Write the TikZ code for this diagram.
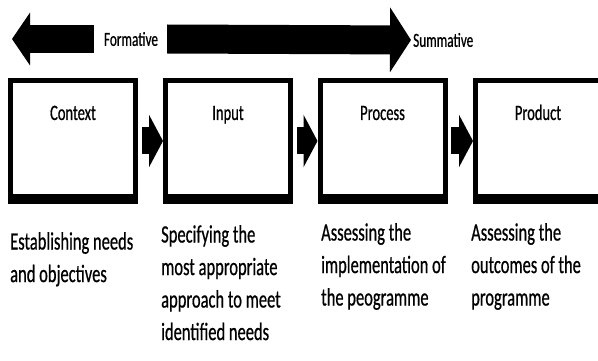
\documentclass[tikz,border=0pt]{standalone}
\usepackage{fontspec}
\setmainfont{Carlito}[FakeStretch=0.66,FakeBold=0.6]
\usetikzlibrary{arrows.meta,positioning}

\tikzset{
  stage/.style={draw, line width=5pt, inner sep=0pt, minimum width=125pt, minimum height=120pt,
    text height=39pt, text depth=81pt, font=\fontsize{22}{24}\selectfont},
  desc/.style={anchor=north west, inner sep=0pt, align=left, font=\fontsize{25}{32.5}\selectfont},
  phase/.style={inner sep=2pt, font=\fontsize{20}{24}\selectfont},
  bigarrow/.style={line width=28pt, -{Triangle[length=18pt,width=52pt]}},
  longarrow/.style={line width=29pt, -{Triangle[length=21pt,width=64pt]}},
  steparrow/.style={line width=27pt, -{Triangle[length=14pt,width=52pt]}}
}

\begin{document}
\begin{tikzpicture}[x=1pt,y=-1pt]
	\useasboundingbox (0,0) rectangle (598,361);

	% top arrows
	\node[phase] (formative) at (131,39) {Formative};
	\node[phase, anchor=west] (summative) at (411,40) {Summative};
	\coordinate (lefttip) at (12,39);
	\draw[bigarrow] ([xshift=-8pt]formative.west) -- (lefttip);
	\draw[longarrow] ([xshift=7pt]formative.east) -- (summative.west);

	% stages
	\node[stage] (context) at (73,141) {Context};
	\node[stage] (input) at (228,141) {Input};
	\node[stage] (process) at (382.5,141) {Process};
	\node[stage] (product) at (538,141) {Product};
	\foreach \s in {context,input,process,product}
		\fill (\s.south west) rectangle ([yshift=10pt]\s.south east);

	\draw[steparrow] ([xshift=4pt]context.east) -- (input.west);
	\draw[steparrow] ([xshift=4pt]input.east) -- (process.west);
	\draw[steparrow] ([xshift=3pt]process.east) -- (product.west);

	% descriptions
	\node[desc] (ctxdesc) at (10,232) {Establishing needs\\and objectives};
	\node[desc] (inpdesc) at (161,225) {Specifying the\\most appropriate\\approach to meet\\identified needs};
	\node[desc] (procdesc) at (321,223) {Assessing the\\implementation of\\the peogramme};
	\node[desc] (proddesc) at (471,223) {Assessing the\\outcomes of the\\programme};
\end{tikzpicture}
\end{document}
